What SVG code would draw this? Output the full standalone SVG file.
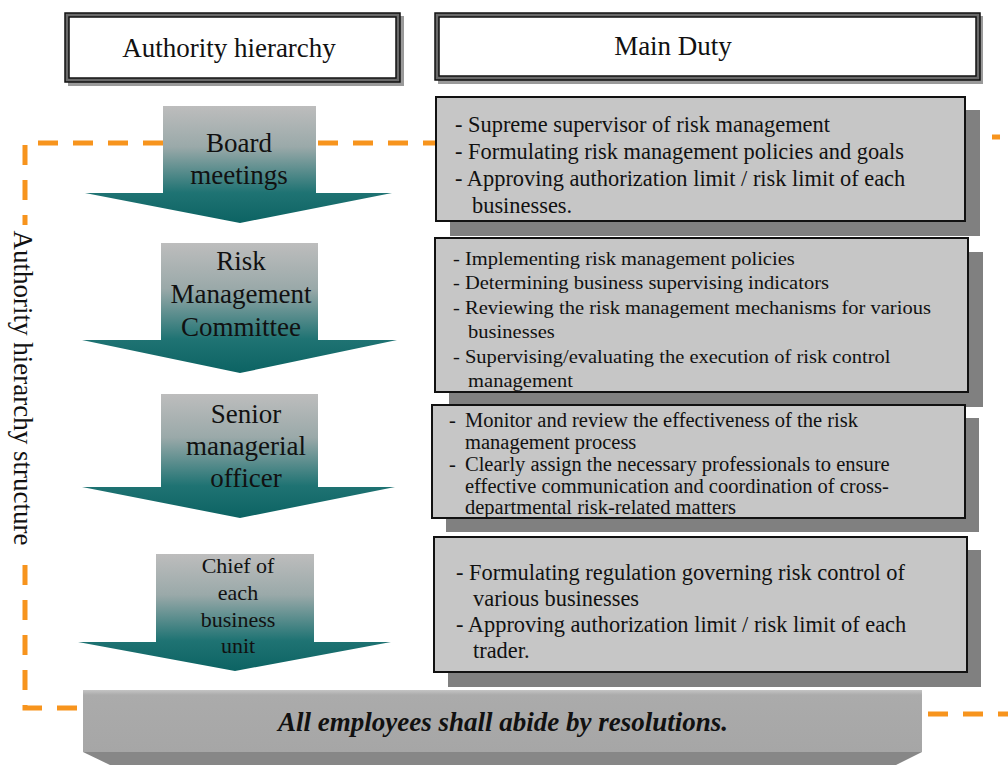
<svg xmlns="http://www.w3.org/2000/svg" width="1008" height="765" viewBox="0 0 1008 765">
  <defs>
    <linearGradient id="arrowFill" x1="0" y1="0" x2="0" y2="1">
      <stop offset="0" stop-color="#bdbdbd"/>
      <stop offset="0.35" stop-color="#9aa9a9"/>
      <stop offset="0.74" stop-color="#1f7373"/>
      <stop offset="1" stop-color="#0c6363"/>
    </linearGradient>
    <linearGradient id="barFill" x1="0" y1="0" x2="0" y2="1">
      <stop offset="0" stop-color="#c4c4c4"/>
      <stop offset="0.08" stop-color="#ababab"/>
      <stop offset="1" stop-color="#a6a6a6"/>
    </linearGradient>
    <style>
      .serif { font-family: "Liberation Serif", "Times New Roman", serif; fill: #111; }
      .head { font-size: 27px; text-anchor: middle; }
      .lbl { font-size: 27px; text-anchor: middle; }
      .lbl-sm { font-size: 22px; text-anchor: middle; }
      .arrow { fill: url(#arrowFill); }
      .duty { fill: #c6c6c6; stroke: #111; stroke-width: 2; }
      .shadow { fill: #808080; }
      .frame-out { fill: #6a6a6a; stroke: #111; stroke-width: 1.5; }
      .frame-in { fill: #ffffff; stroke: #111; stroke-width: 1.5; }
      .frame-sh { fill: #9a9a9a; }
      .dash { fill: none; stroke: #f7941d; stroke-width: 5; stroke-dasharray: 20 15; }
      .t22 { font-size: 22.4px; }
      .t20 { font-size: 20.5px; }
      .t19 { font-size: 19px; }
    </style>
  </defs>

  <rect width="1008" height="765" fill="#ffffff"/>

  <!-- dashed boundary of the hierarchy structure -->
  <g id="connectors">
    <path class="dash" d="M25 165 V143 H436"/>
    <path class="dash" d="M25 180 V708 H83"/>
    <path class="dash" d="M992 137 H1000"/>
    <path class="dash" d="M928 714 H1008" stroke-dasharray="18 9 20 15 20 15"/>
  </g>

  <!-- side caption -->
  <g id="side-label">
    <rect x="6" y="225" width="36" height="326" fill="#ffffff"/>
    <text class="serif" font-size="27" text-anchor="middle" transform="translate(14,388) rotate(90)">Authority hierarchy structure</text>
  </g>

  <!-- column headers -->
  <g id="header-authority">
    <rect class="frame-sh" x="68" y="16" width="336" height="70"/>
    <rect class="frame-out" x="65" y="13" width="335" height="69"/>
    <rect class="frame-in" x="69" y="17" width="327" height="61"/>
    <text class="serif head" x="229" y="57">Authority hierarchy</text>
  </g>
  <g id="header-duty">
    <rect class="frame-sh" x="438" y="16" width="545" height="68"/>
    <rect class="frame-out" x="435" y="13" width="545" height="67"/>
    <rect class="frame-in" x="439" y="17" width="537" height="59"/>
    <text class="serif head" x="673" y="55">Main Duty</text>
  </g>

  <!-- hierarchy arrows -->
  <g id="node-board">
    <polygon class="arrow" points="163,106 316,106 316,193 392,193 240,223 85,193 163,193"/>
    <text class="serif lbl" x="239" y="152">Board</text>
    <text class="serif lbl" x="239" y="184">meetings</text>
  </g>
  <g id="node-rmc">
    <polygon class="arrow" points="161,243 318,243 318,340 397,340 240,373 82,340 161,340"/>
    <text class="serif lbl" x="241" y="270">Risk</text>
    <text class="serif lbl" x="241" y="303">Management</text>
    <text class="serif lbl" x="241" y="336">Committee</text>
  </g>
  <g id="node-senior">
    <polygon class="arrow" points="161,394 318,394 318,487 395,487 240,518 82,487 161,487"/>
    <text class="serif lbl" x="246" y="423">Senior</text>
    <text class="serif lbl" x="246" y="455">managerial</text>
    <text class="serif lbl" x="246" y="487">officer</text>
  </g>
  <g id="node-chief">
    <polygon class="arrow" points="156,554 314,554 314,642 391,642 235,671 78,642 156,642"/>
    <text class="serif lbl-sm" x="238" y="573">Chief of</text>
    <text class="serif lbl-sm" x="238" y="600">each</text>
    <text class="serif lbl-sm" x="238" y="627">business</text>
    <text class="serif lbl-sm" x="238" y="653">unit</text>
  </g>

  <!-- duty boxes -->
  <g id="duty-board">
    <rect class="shadow" x="450" y="110" width="530" height="126"/>
    <rect class="duty" x="436" y="97" width="529" height="124"/>
    <g class="serif t22">
      <text x="455" y="132">- Supreme supervisor of risk management</text>
      <text x="455" y="159">- Formulating risk management policies and goals</text>
      <text x="455" y="186">- Approving authorization limit / risk limit of each</text>
      <text x="472" y="213">businesses.</text>
    </g>
  </g>
  <g id="duty-rmc">
    <rect class="shadow" x="449" y="252" width="534" height="155"/>
    <rect class="duty" x="435" y="238" width="533" height="154"/>
    <g class="serif t19" transform="translate(453,0) scale(1.08,1)">
      <text x="0" y="265">- Implementing risk management policies</text>
      <text x="0" y="289">- Determining business supervising indicators</text>
      <text x="0" y="314">- Reviewing the risk management mechanisms for various</text>
      <text x="14" y="338">businesses</text>
      <text x="0" y="363">- Supervising/evaluating the execution of risk control</text>
      <text x="14" y="387">management</text>
    </g>
  </g>
  <g id="duty-senior">
    <rect class="shadow" x="446" y="418" width="533" height="114"/>
    <rect class="duty" x="432" y="405" width="533" height="113"/>
    <g class="serif t20">
      <text x="449" y="427">-</text>
      <text x="465" y="427">Monitor and review the effectiveness of the risk</text>
      <text x="465" y="449">management process</text>
      <text x="449" y="471">-</text>
      <text x="465" y="471">Clearly assign the necessary professionals to ensure</text>
      <text x="465" y="493">effective communication and coordination of cross-</text>
      <text x="465" y="514">departmental risk-related matters</text>
    </g>
  </g>
  <g id="duty-chief">
    <rect class="shadow" x="448" y="550" width="533" height="137"/>
    <rect class="duty" x="434" y="537" width="533" height="135"/>
    <g class="serif t22">
      <text x="456" y="580">- Formulating regulation governing risk control of</text>
      <text x="473" y="606">various businesses</text>
      <text x="456" y="632">- Approving authorization limit / risk limit of each</text>
      <text x="473" y="658">trader.</text>
    </g>
  </g>

  <!-- base bar -->
  <g id="base-bar">
    <polygon points="83,752 922,752 896,765 110,765" fill="#878787"/>
    <rect x="83" y="690" width="839" height="62" fill="url(#barFill)"/>
    <text class="serif" x="503" y="731" font-size="27" font-weight="bold" font-style="italic" text-anchor="middle">All employees shall abide by resolutions.</text>
  </g>
</svg>
